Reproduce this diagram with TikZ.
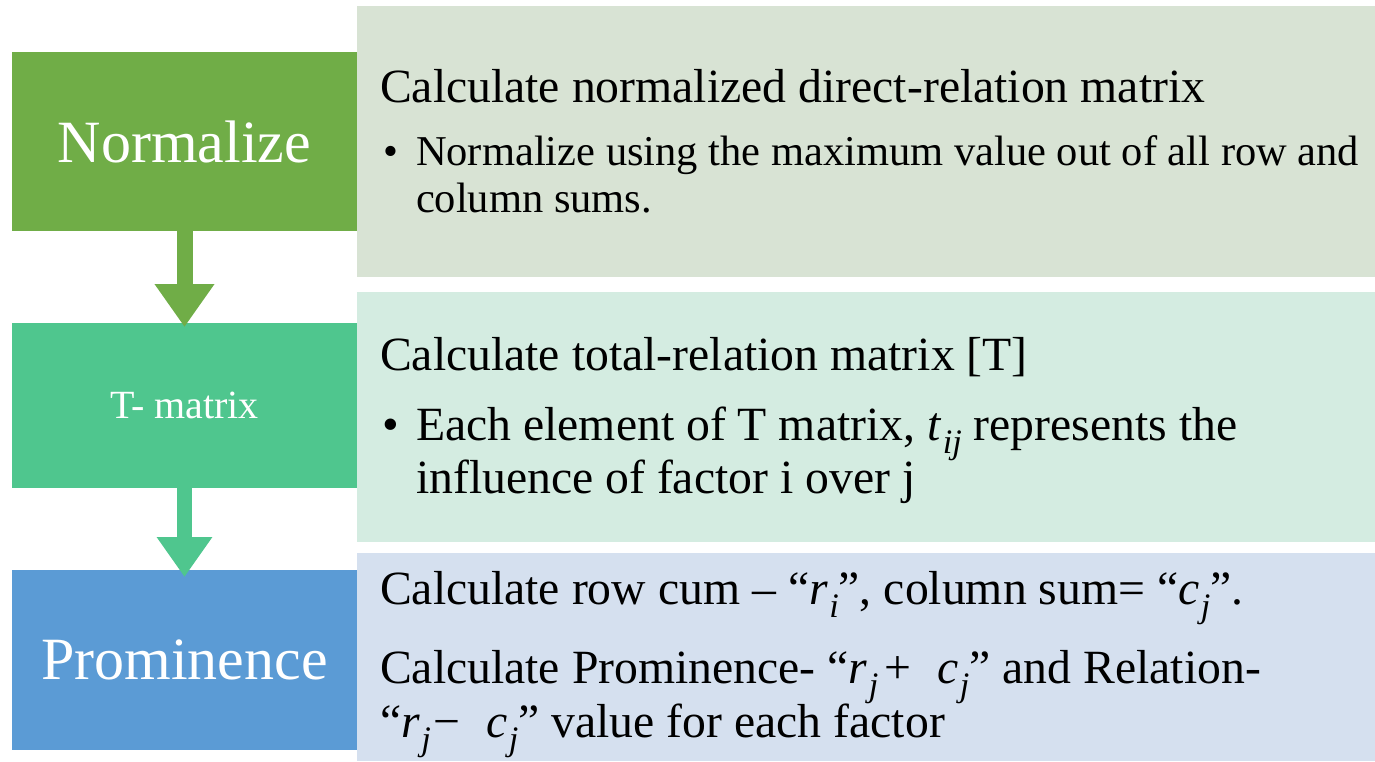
\documentclass[tikz,border=0pt]{standalone}
\usepackage{fontspec}
\setmainfont{Liberation Serif}
\usetikzlibrary{arrows.meta}
\definecolor{gnorm}{HTML}{70AD47}
\definecolor{pnorm}{HTML}{D8E3D4}
\definecolor{gtmat}{HTML}{4FC68E}
\definecolor{ptmat}{HTML}{D4ECE1}
\definecolor{bprom}{HTML}{5B9BD5}
\definecolor{pprom}{HTML}{D5E0EF}
\newcommand\vs[2]{\textit{#1}\kern0.03em\raisebox{-0.28em}[0pt][0pt]{\scalebox{0.72}{\textit{#2}}}}
\tikzset{
  leftbox/.style={rectangle,inner sep=0pt,outer sep=0pt,minimum width=345pt,text=white},
  panel/.style={rectangle,inner sep=0pt,outer sep=0pt,minimum width=1018pt},
  line/.style={anchor=base west,inner sep=0pt,outer sep=0pt,text=black},
  big/.style={font=\fontsize{47.7}{54}\selectfont},
  small/.style={font=\fontsize{42.5}{47}\selectfont},
}
\begin{document}
\begin{tikzpicture}[x=1pt,y=-1pt]
\useasboundingbox (0,0) rectangle (1375,761);
% panels
\node[panel,fill=pnorm,minimum height=271pt] (p1) at (866,141.5) {};
\node[panel,fill=ptmat,minimum height=250pt] (p2) at (866,417) {};
\node[panel,fill=pprom,minimum height=208pt] (p3) at (866,657) {};
% left boxes
\node[leftbox,fill=gnorm,minimum height=179pt,font=\fontsize{60}{60}\selectfont] (n1) at (184.5,141.5) {Normalize};
\node[leftbox,fill=gtmat,minimum height=165pt,font=\fontsize{40}{40}\selectfont] (n2) at (184.5,405.5) {T- matrix};
\node[leftbox,fill=bprom,minimum height=180pt,font=\fontsize{60}{60}\selectfont] (n3) at (184.5,660) {Prominence};
% arrows
\draw[gnorm,line width=16pt,-{Triangle[width=57pt,length=43pt]}] (n1.south) -- ([yshift=-4pt]n2.north);
\draw[gtmat,line width=15pt,-{Triangle[width=53pt,length=40pt]}] (n2.south) -- ([yshift=-7pt]n3.north);
% panel 1 text
\node[line,big] (t1a) at (380,102) {Calculate normalized direct-relation matrix};
\node[line,small] (b1) at (383,165) {•};
\node[line,small] (t1b) at (416,165) {Normalize using the maximum value out of all row and};
\node[line,small] (t1c) at (416,212) {column sums.};
% panel 2 text
\node[line,big] (t2a) at (380,370) {Calculate total-relation matrix [T]};
\node[line,big] (b2) at (382,440) {•};
\node[line,big] (t2b) at (416,440) {Each element of T matrix, \vs{t}{ij} represents the};
\node[line,big] (t2c) at (416,493) {influence of factor i over j};
% panel 3 text
\node[line,big] (t3a) at (380,604) {Calculate row cum – “\vs{r}{i}”, column sum= “\vs{c}{j}”.};
\node[line,big,align=left] (t3b) at (380,737) {Calculate Prominence- “\vs{r}{j}\hspace{0.12em}+\hspace{0.55em}\vs{c}{j}” and Relation-\\[0pt]“\vs{r}{j}\hspace{0.05em}−\hspace{0.55em}\vs{c}{j}” value for each factor};
\end{tikzpicture}
\end{document}
